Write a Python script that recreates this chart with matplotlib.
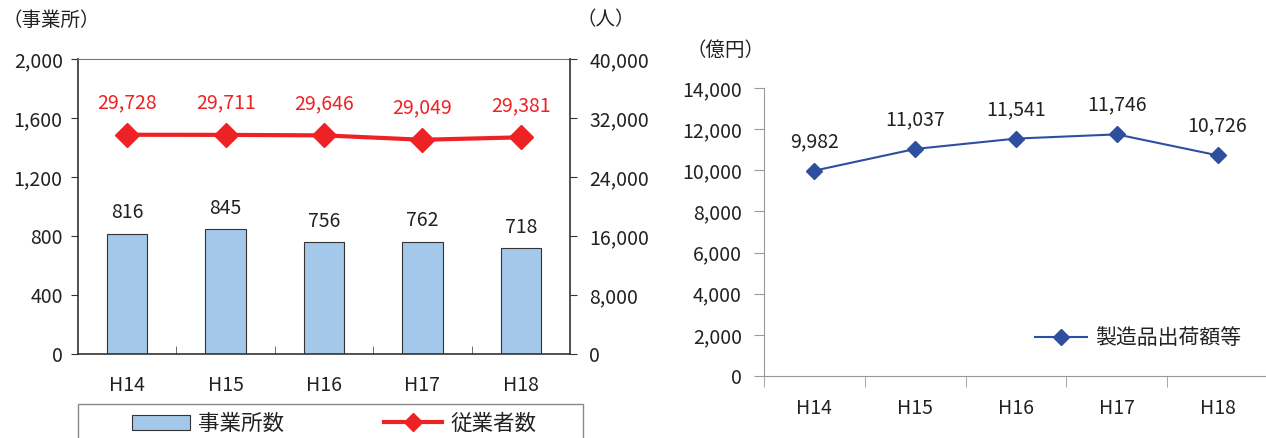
import matplotlib
matplotlib.use("Agg")
import matplotlib.pyplot as plt
from matplotlib.patches import Rectangle
from matplotlib.ticker import FuncFormatter, MultipleLocator, FixedLocator

plt.rcParams['font.family'] = ['Noto Sans CJK JP', 'DejaVu Sans']

# data
years = ['H14', 'H15', 'H16', 'H17', 'H18']
offices = [816, 845, 756, 762, 718]            # 事業所数
workers = [29728, 29711, 29646, 29049, 29381]  # 従業者数
shipments = [9982, 11037, 11541, 11746, 10726]  # 製造品出荷額等 (億円)

BAR = '#A3C8EA'
RED = '#EE2225'
BLUE = '#2E4FA0'
TXT = '#222222'
FS = 14     # numbers
FSJ = 15.5  # japanese legend text

comma = FuncFormatter(lambda v, p: f'{int(v):,}')

fig = plt.figure(figsize=(12.66, 4.38), dpi=100)
W, H = 1266, 438

# ---- left chart: offices (bars) and workers (line) ----
ax = fig.add_axes([78 / W, 1 - 354 / H, (570 - 78) / W, (354 - 59) / H])
x = range(len(years))
bars = ax.bar(x, offices, width=0.41, color=BAR, edgecolor='#333333', linewidth=0.8, zorder=2)
ax.set_xlim(-0.5, len(years) - 0.5)
ax.set_ylim(0, 2000)
ax.yaxis.set_major_locator(MultipleLocator(400))
ax.yaxis.set_major_formatter(comma)
ax.set_xticks(list(x))
ax.set_xticklabels(years)
ax.xaxis.set_minor_locator(FixedLocator([i + 0.5 for i in range(len(years) - 1)]))
ax.tick_params(axis='x', which='major', length=0, pad=15, labelsize=FS, labelcolor=TXT)
ax.tick_params(axis='x', which='minor', direction='in', length=6, color='#555555')
ax.tick_params(axis='y', direction='out', length=5, pad=6, labelsize=FS, labelcolor=TXT, color='#333333')
for s in ['left', 'bottom']:
    ax.spines[s].set_color('#333333')
    ax.spines[s].set_linewidth(1.2)
ax.spines['top'].set_color('#777777')
ax.spines['right'].set_visible(False)

for xi, v in zip(x, offices):
    ax.annotate(str(v), (xi, v), xytext=(0, 15), textcoords='offset points',
                ha='center', va='center', fontsize=FS, color=TXT)

ax_r = ax.twinx()
ax_r.set_ylim(0, 40000)
ax_r.yaxis.set_major_locator(MultipleLocator(8000))
ax_r.yaxis.set_major_formatter(comma)
ax_r.tick_params(axis='y', direction='out', length=5, pad=9, labelsize=FS, labelcolor=TXT, color='#333333')
ax_r.spines['right'].set_color('#333333')
ax_r.spines['right'].set_linewidth(1.2)
for s in ['left', 'top', 'bottom']:
    ax_r.spines[s].set_visible(False)
line_w, = ax_r.plot(list(x), workers, color=RED, linewidth=3, marker='D', markersize=12, zorder=3)
for xi, v in zip(x, workers):
    ax_r.annotate(f'{v:,}', (xi, v), xytext=(0, 23), textcoords='offset points',
                  ha='center', va='center', fontsize=FS, color=RED)

fig.text(2 / W, 1 - 20 / H, '（事業所）', fontsize=FS, color=TXT, va='center', ha='left')
fig.text(576 / W, 1 - 20 / H, '（人）', fontsize=FS, color=TXT, va='center', ha='left')

# legend box below the left chart
fig.patches.append(Rectangle((78 / W, -0.05), (583 - 78) / W, 0.05 + (438 - 404) / H,
                             transform=fig.transFigure, fill=False, edgecolor='#888888', linewidth=1))
fig.legend([bars, line_w], ['事業所数', '従業者数'], loc='center', bbox_to_anchor=(334 / W, 1 - 424 / H),
           ncol=2, frameon=False, fontsize=FSJ, handlelength=2.7, handletextpad=0.4,
           columnspacing=4.6, labelcolor=TXT, markerscale=0.8)

# ---- right chart: shipments ----
ax2 = fig.add_axes([764 / W, 1 - 376 / H, (1268 - 764) / W, (376 - 88) / H])
ax2.set_xlim(-0.5, len(years) - 0.5)
ax2.set_ylim(0, 14000)
ax2.yaxis.set_major_locator(MultipleLocator(2000))
ax2.yaxis.set_major_formatter(comma)
ax2.set_xticks(list(x))
ax2.set_xticklabels(years)
ax2.xaxis.set_minor_locator(FixedLocator([i - 0.5 for i in range(len(years) + 1)]))
ax2.tick_params(axis='x', which='major', length=0, pad=16, labelsize=FS, labelcolor=TXT)
ax2.tick_params(axis='x', which='minor', direction='out', length=8, color='#999999')
ax2.tick_params(axis='y', direction='out', length=7, pad=9, labelsize=FS, labelcolor=TXT, color='#999999')
for s in ['left', 'bottom']:
    ax2.spines[s].set_color('#999999')
for s in ['top', 'right']:
    ax2.spines[s].set_visible(False)
line_s, = ax2.plot(list(x), shipments, color=BLUE, linewidth=1.5, marker='D', markersize=8)
for xi, v in zip(x, shipments):
    ax2.annotate(f'{v:,}', (xi, v), xytext=(0, 21), textcoords='offset points',
                 ha='center', va='center', fontsize=FS, color=TXT)
ax2.legend([line_s], ['製造品出荷額等'], loc='center left', bbox_to_anchor=(1016 / W, 1 - 338 / H),
           bbox_transform=fig.transFigure, frameon=False, fontsize=15, handlelength=2.5,
           handletextpad=0.4, labelcolor=TXT)

fig.text(686 / W, 1 - 50 / H, '（億円）', fontsize=FS, color=TXT, va='center', ha='left')

fig.savefig('out.png', dpi=100)
